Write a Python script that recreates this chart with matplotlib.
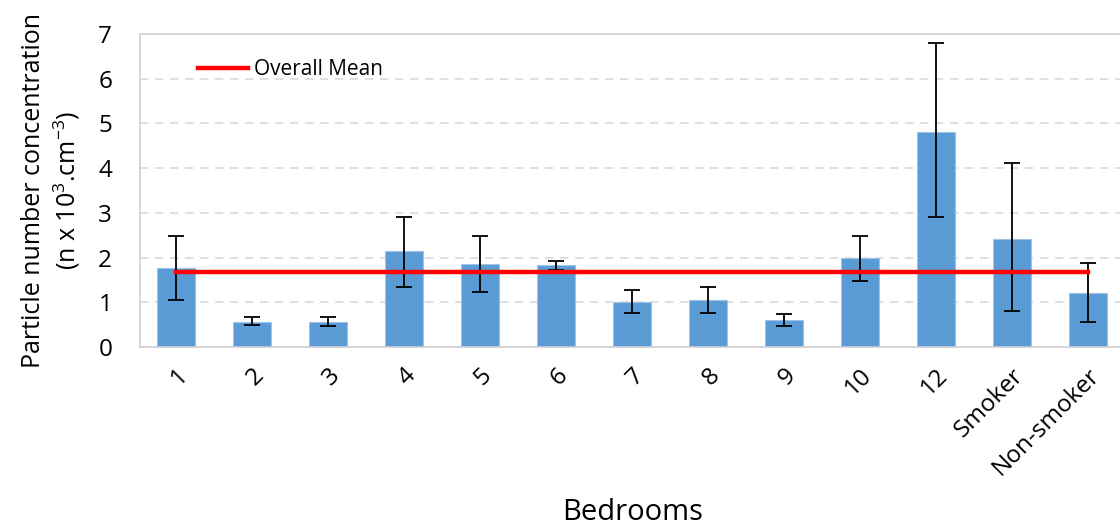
import matplotlib
matplotlib.use('Agg')

import numpy as np
import matplotlib.pyplot as plt

plt.rcParams['font.family'] = ['Open Sans', 'DejaVu Sans']
plt.rcParams['mathtext.fontset'] = 'custom'
plt.rcParams['mathtext.rm'] = 'Open Sans'
plt.rcParams['mathtext.default'] = 'rm'

bedrooms = ["1", "2", "3", "4", "5", "6", "7", "8", "9", "10", "12", "Smoker", "Non-smoker"]
conc = [1.77, 0.56, 0.56, 2.14, 1.86, 1.83, 1.01, 1.05, 0.60, 1.98, 4.80, 2.42, 1.20]
err_lo = [1.05, 0.49, 0.46, 1.35, 1.23, 1.73, 0.75, 0.77, 0.46, 1.48, 2.90, 0.80, 0.56]
err_hi = [2.48, 0.67, 0.67, 2.90, 2.48, 1.93, 1.28, 1.35, 0.74, 2.48, 6.80, 4.12, 1.88]
overall_mean = 1.67

x = np.arange(len(bedrooms))
conc = np.array(conc)
yerr = [conc - np.array(err_lo), np.array(err_hi) - conc]

fig = plt.figure(figsize=(11.2, 5.3), dpi=100)
ax = fig.add_axes([140/1120., 183/530., 986/1120., 313/530.])

ax.bar(x, conc, width=0.5, color="#5b9bd5", edgecolor="#9dc3e6", linewidth=0.8, zorder=2)
ax.errorbar(x, conc, yerr=yerr, fmt="none", ecolor="black", elinewidth=1.3,
            capsize=6, capthick=1.3, zorder=3)
ax.plot([x[0], x[-1]], [overall_mean, overall_mean], color="#ff0000", lw=3.2,
        zorder=4, label="Overall Mean")

ax.set_xlim(-0.47, len(bedrooms) - 0.5)
ax.set_ylim(0, 7)
ax.set_yticks(range(0, 8))
ax.yaxis.grid(True, ls=(0, (5, 4)), color="#d9d9d9", lw=1.2, zorder=0)
ax.set_xticks(x)
ax.set_xticklabels(bedrooms, rotation=45, ha="right", rotation_mode="anchor")
ax.tick_params(axis="both", length=0, labelsize=17.5)
ax.tick_params(axis="y", pad=20)
ax.tick_params(axis="x", pad=12)
for s in ax.spines.values():
    s.set_color("#d0d0d0")
    s.set_linewidth(1.2)

ax.set_ylabel("Particle number concentration\n(n x 10$^{3}$.cm$^{-3}$)", fontsize=18,
              labelpad=12, linespacing=1.2)
fig.text(633/1120., 1 - 512/530., "Bedrooms", ha="center", va="center", fontsize=21)

ax.legend(loc="upper left", bbox_to_anchor=(0.04, 0.98), frameon=False, fontsize=15,
          handlelength=2.4, handletextpad=0.3)

fig.savefig("out.png", dpi=100)
